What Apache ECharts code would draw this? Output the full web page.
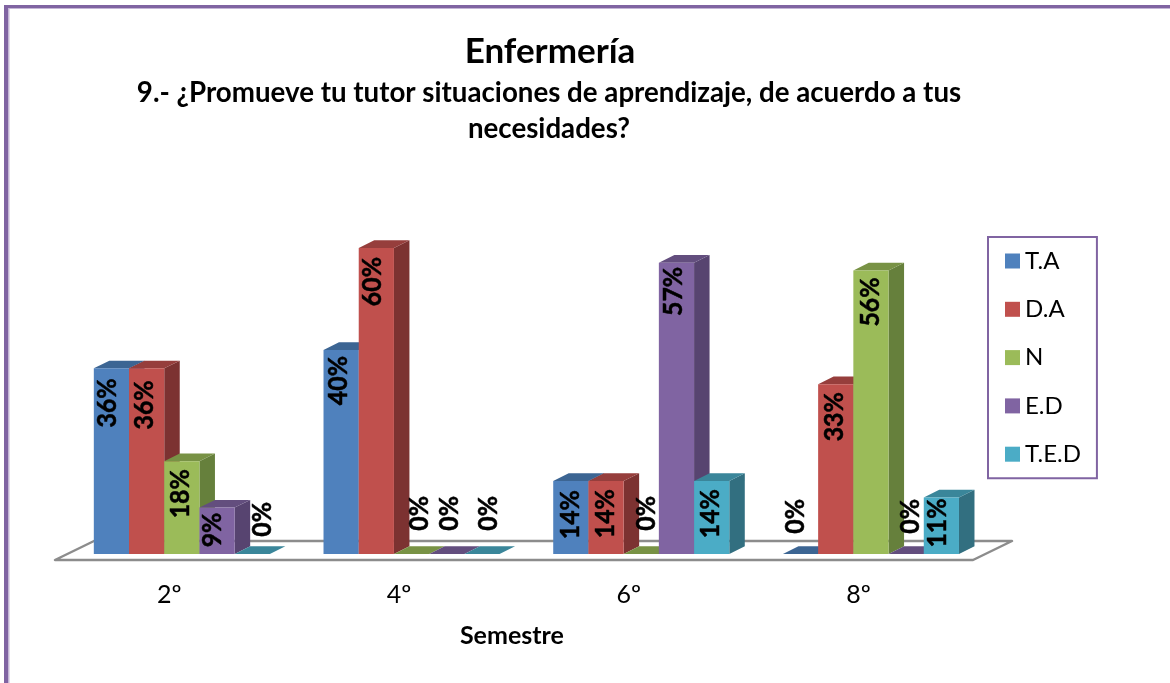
<!DOCTYPE html>
<html><head><meta charset="utf-8">
<style>html,body{margin:0;padding:0;background:#fff}#c{width:1170px;height:683px}</style>
<script src="https://cdn.jsdelivr.net/npm/echarts@6/dist/echarts.min.js"></script>
</head><body><div id="c"></div>
<script>
const categories = ['2º','4º','6º','8º'];
const seriesNames = ['T.A','D.A','N','E.D','T.E.D'];
const TA  = [36.4,40,14.3,0];
const DA  = [36.4,60,14.3,33.3];
const N   = [18.2,0,0,55.6];
const ED  = [9.1,0,57.1,0];
const TED = [0,0,14.3,11.1];
const seriesValues = [TA,DA,N,ED,TED];

// styling: front, top, side faces
const faces = [
  ['#4F81BD','#3C6593','#3A5F8B'],
  ['#C0504D','#963E3C','#7C3231'],
  ['#9BBB59','#789245','#66803C'],
  ['#8064A2','#634E7E','#574470'],
  ['#4BACC6','#3A869A','#326F80']
];
// per-label placement nudges [dx, dy from bar top], hand-placed in the original
const labelNudge = [
  [[-4,10],[-3,6],[-1,9],[-5,-55]],
  [[-2,12],[-4,9],[-1,8],[-1,8]],
  [[-2,8],[8,-58],[5,-58],[-1,7]],
  [[-5,5],[3,-58],[-3,4],[4,-55]],
  [[10,-52],[6,-58],[-1,8],[-4,1]]
];
const DX = 15.5, DY = 7.7, FONT = 'Lato, Carlito, sans-serif';

function makeRender(si){
  return function(params, api){
    const idx = api.value(0), val = api.value(1);
    const band = api.size([1,0])[0];
    const w = band * 0.1533;
    const cx = api.coord([idx,0])[0];
    const base = api.coord([idx,0])[1];
    const top = api.coord([idx,val])[1];
    const x0 = cx - 2.5*w + si*w, x1 = x0 + w;
    const f = faces[si];
    const n = labelNudge[si][idx];
    return {type:'group', children:[
      {type:'polygon', shape:{points:[[x1,top],[x1+DX,top-DY],[x1+DX,base-DY],[x1,base]]}, style:{fill:f[2]}},
      {type:'polygon', shape:{points:[[x0,top],[x0+DX,top-DY],[x1+DX,top-DY],[x1,top]]}, style:{fill:f[1]}},
      {type:'rect', shape:{x:x0,y:top,width:w,height:base-top}, style:{fill:f[0]}},
      {type:'text', x:(x0+x1)/2+n[0], y:top+n[1], rotation:Math.PI/2, scaleX:0.92, z2:50,
       style:{text:Math.round(val)+'%', x:0, y:0, align:'right', verticalAlign:'middle', fill:'#000', stroke:'#000', lineWidth:0.5, font:'bold 27px '+FONT}}
    ]};
  };
}

const chart = echarts.init(document.getElementById('c'), null, {renderer:'canvas'});
chart.setOption({
  animation:false,
  backgroundColor:'#fff',
  title:[
    {text:'Enfermería', left:545, top:29, textAlign:'center', textStyle:{fontFamily:FONT,fontSize:35,fontWeight:'bold',color:'#000'}},
    {text:'9.- ¿Promueve tu tutor situaciones de aprendizaje, de acuerdo a tus\nnecesidades?', left:544, top:70, textAlign:'center',
     textStyle:{fontFamily:FONT,fontSize:27.7,fontWeight:'bold',color:'#000',lineHeight:36}}
  ],
  grid:{left:67, width:918.8, top:197, height:357},
  xAxis:{type:'category', data:categories, axisLine:{show:false}, axisTick:{show:false},
    axisLabel:{fontFamily:FONT,fontSize:25,color:'#000',margin:28,padding:[0,25,0,0]},
    name:'Semestre', nameLocation:'middle', nameGap:69,
    nameTextStyle:{fontFamily:FONT,fontSize:25,fontWeight:'bold',color:'#000',padding:[0,29,0,0]}},
  yAxis:{type:'value', min:0, max:70, show:false},
  legend:{orient:'vertical', left:988, top:237, icon:'rect', itemWidth:15, itemHeight:15, itemGap:24.3,
    padding:[12,16,12,17], borderColor:'#8064A2', borderWidth:2, backgroundColor:'#fff',
    selectedMode:false, data:seriesNames,
    textStyle:{fontFamily:FONT,fontSize:24,color:'#000',lineHeight:24}},
  graphic:[
    {type:'polygon', z:-1, shape:{points:[[55,560],[973,560],[1012,541],[94,541]]}, style:{fill:'#fff',stroke:'#8C8C8C',lineWidth:2.5,lineJoin:'round'}},
    {type:'rect', z:-1, shape:{x:4,y:5,width:1166,height:3}, style:{fill:'#8064A2'}},
    {type:'rect', z:-1, shape:{x:4,y:5,width:4,height:678}, style:{fill:'#8064A2'}},
    {type:'rect', z:-1, shape:{x:8,y:8,width:1162,height:1}, style:{fill:'#C4B5D6'}},
    {type:'rect', z:-1, shape:{x:8,y:8,width:1.5,height:675}, style:{fill:'#C4B5D6'}}
  ],
  series:seriesNames.map((name,si)=>({
    type:'custom', name, coordinateSystem:'cartesian2d', clip:false,
    itemStyle:{color:faces[si][0]},
    renderItem:makeRender(si),
    encode:{x:0,y:1},
    data:seriesValues[si].map((v,i)=>[categories[i],v]),
    z:2+si
  }))
});
</script></body></html>
